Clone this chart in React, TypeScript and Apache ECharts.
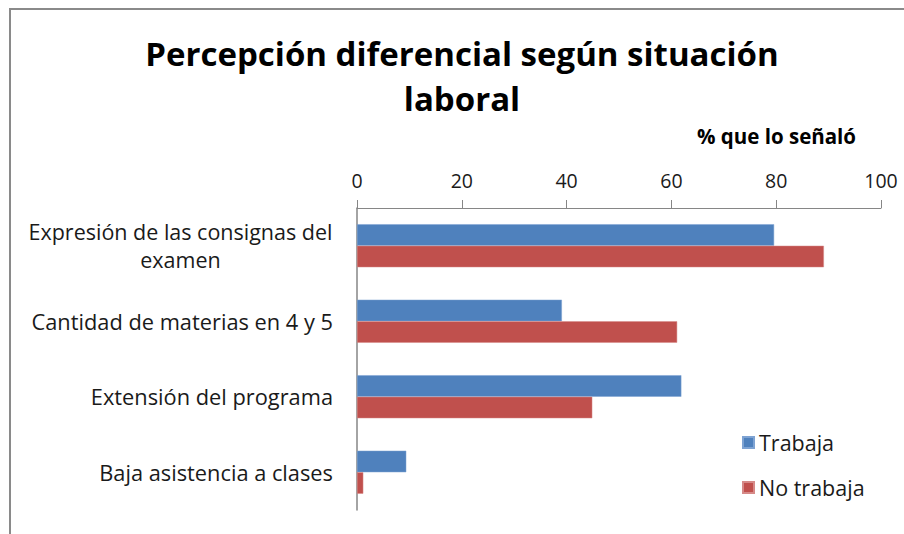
import React, { useEffect, useRef } from "react";
import * as echarts from "echarts";

const categories = [
  "Expresión de las consignas del examen",
  "Cantidad de materias en 4 y 5",
  "Extensión del programa",
  "Baja asistencia a clases",
];
const seriesNames = ["Trabaja", "No trabaja"];
const trabaja = [79.6, 39.1, 61.9, 9.4];
const noTrabaja = [89.1, 61.1, 44.9, 1.2];
const xTicks = { min: 0, max: 100, interval: 20 };

const FONT = "'Open Sans', Lato, sans-serif";

export default function App() {
  const ref = useRef<HTMLDivElement>(null);
  useEffect(() => {
    if (!ref.current) return;
    const chart = echarts.init(ref.current, undefined, { renderer: "svg" });
    chart.setOption({
      animation: false,
      backgroundColor: "#ffffff",
      textStyle: { fontFamily: FONT },
      title: [
        {
          text: "Percepción diferencial según situación\nlaboral",
          left: 457,
          textAlign: "center",
          top: 26,
          textStyle: {
            fontFamily: FONT,
            fontSize: 33,
            fontWeight: "bold",
            color: "#000000",
            lineHeight: 45,
          },
        },
        {
          text: "% que lo señaló",
          left: 692,
          top: 120,
          textStyle: {
            fontFamily: FONT,
            fontSize: 20.5,
            fontWeight: "bold",
            color: "#000000",
          },
        },
      ],
      graphic: [
        {
          type: "rect",
          shape: { x: 10, y: 9, width: 1000, height: 1000 },
          style: { fill: "none", stroke: "#8a8a8a", lineWidth: 2 },
          silent: true,
          z: -1,
        },
      ],
      legend: {
        orient: "vertical",
        left: 737,
        top: 426,
        itemWidth: 11,
        itemHeight: 11,
        itemGap: 22,
        icon: "rect",
        data: seriesNames,
        textStyle: {
          fontFamily: FONT,
          fontSize: 21.5,
          color: "#1a1a1a",
          lineHeight: 23,
        },
      },
      grid: { left: 357, right: 23, top: 208, bottom: 24, containLabel: false },
      xAxis: {
        type: "value",
        position: "top",
        min: xTicks.min,
        max: xTicks.max,
        interval: xTicks.interval,
        axisLine: { show: true, lineStyle: { color: "#868686", width: 1 } },
        axisTick: { show: true, length: 8, lineStyle: { color: "#868686" } },
        splitLine: { show: false },
        axisLabel: {
          margin: 18,
          fontFamily: FONT,
          fontSize: 19.5,
          color: "#1a1a1a",
        },
      },
      yAxis: {
        type: "category",
        inverse: true,
        data: categories,
        axisLine: { show: true, lineStyle: { color: "#868686", width: 1.5 } },
        axisTick: { show: false },
        axisLabel: {
          margin: 24,
          fontFamily: FONT,
          fontSize: 21.8,
          color: "#1a1a1a",
          formatter: (v: string) => {
            if (v === categories[0]) {
              return "{c|Expresión de las consignas del}\n{c|examen}";
            }
            return v;
          },
          rich: {
            c: {
              width: 305,
              align: "center",
              fontFamily: FONT,
              fontSize: 21.5,
              color: "#1a1a1a",
              lineHeight: 28,
            },
          },
        },
      },
      series: [
        {
          name: seriesNames[0],
          type: "bar",
          data: trabaja,
          barGap: "0%",
          barCategoryGap: "43%",
          itemStyle: { color: "#4F81BD", borderColor: "#7ea3d3", borderWidth: 0.5 },
        },
        {
          name: seriesNames[1],
          type: "bar",
          data: noTrabaja,
          barGap: "0%",
          barCategoryGap: "43%",
          itemStyle: { color: "#C0504D", borderColor: "#d68a88", borderWidth: 0.5 },
        },
      ],
    });
    return () => chart.dispose();
  }, []);
  return (
    <div
      ref={ref}
      style={{ position: "fixed", left: 0, top: 0, width: 904, height: 534 }}
    />
  );
}
